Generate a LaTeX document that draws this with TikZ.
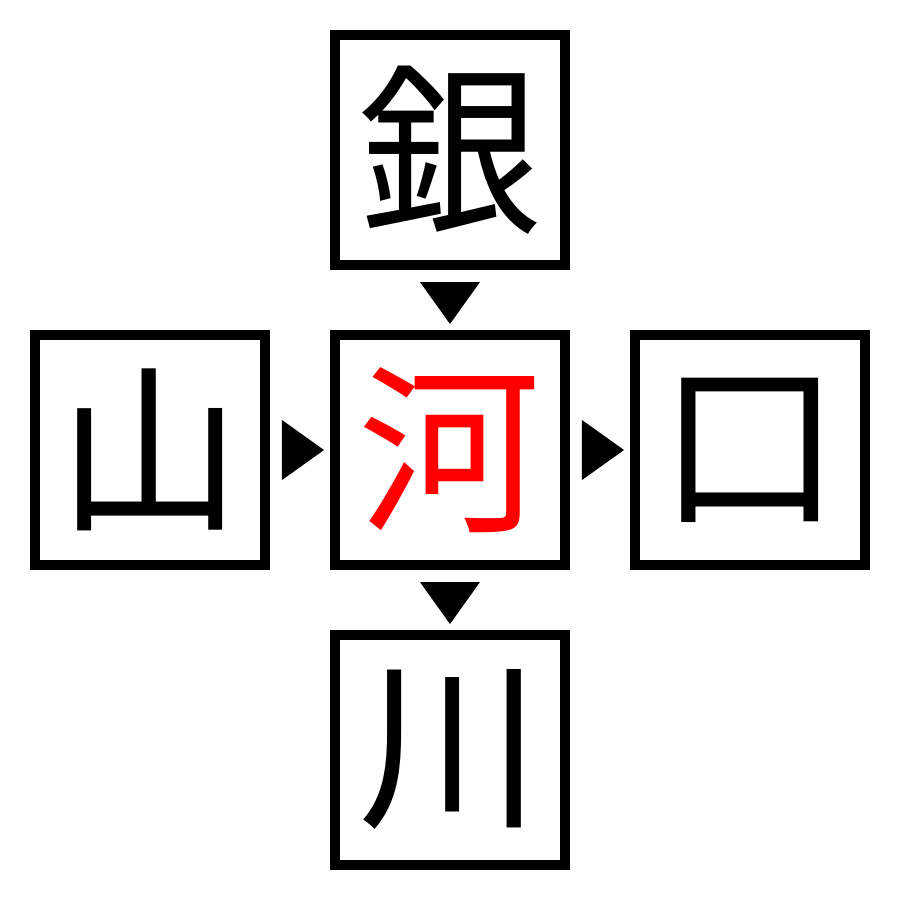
\documentclass[tikz,border=0pt]{standalone}
\usepackage{fontspec}
\newfontfamily\jpfont{Noto Sans CJK JP}
\usetikzlibrary{positioning}
\tikzset{
	pointer/.pic={\fill (-0.18,0.3) -- (0.24,0) -- (-0.18,-0.3) -- cycle;}
}
\begin{document}
\begin{tikzpicture}[kanji/.style={draw, line width=0.1cm, minimum size=2.3cm, inner sep=0,
			font=\jpfont\fontsize{52}{52}\selectfont}, node distance=0.6cm]
	\useasboundingbox (-4.5,-4.5) rectangle (4.5,4.5);
	\node[kanji, text=red] (ka) at (0,0) {河};
	\node[kanji, above=of ka] (gin) {銀};
	\node[kanji, left=of ka] (yama) {山};
	\node[kanji, right=of ka] (kuchi) {口};
	\node[kanji, below=of ka] (kawa) {川};
	% arrows between the boxes
	\path (gin) -- (ka) pic[midway, rotate=-90] {pointer};
	\path (yama) -- (ka) pic[midway] {pointer};
	\path (ka) -- (kuchi) pic[midway] {pointer};
	\path (ka) -- (kawa) pic[midway, rotate=-90] {pointer};
\end{tikzpicture}
\end{document}
